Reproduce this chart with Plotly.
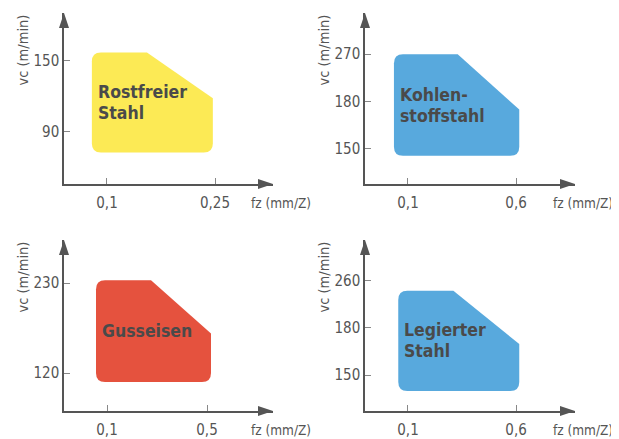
import plotly.graph_objects as go

# ---------------- data ----------------
materials = [["Rostfreier", "Stahl"], ["Kohlen-", "stoffstahl"], ["Gusseisen"], ["Legierter", "Stahl"]]
fz_ticks = [["0,1", "0,25"], ["0,1", "0,6"], ["0,1", "0,5"], ["0,1", "0,6"]]
vc_ticks = [["90", "150"], ["150", "180", "270"], ["120", "230"], ["150", "180", "260"]]
# region outline in tick-position units (1 = first tick, 2 = second tick, ...)
fz_lo = [0.86, 0.87, 0.89, 0.91]
fz_knee = [1.37, 1.46, 1.44, 1.42]
fz_hi = [1.98, 2.03, 2.04, 2.03]
vc_lo = [0.71, 0.85, 0.90, 0.66]
vc_knee = [1.47, 1.83, 1.44, 1.66]
vc_hi = [2.11, 3.00, 2.03, 2.79]
colors = ["#FCEA55", "#58A9DD", "#E5523E", "#58A9DD"]

# ---------------- layout geometry ----------------
PAGE_W, PAGE_H = 619, 439
OFF = 8  # default page body margin
W, H = PAGE_W - OFF, PAGE_H - OFF
# pixel boxes in page coordinates: (x0, x1, ytop, ybottom)
boxes = [(64, 273, 13, 184), (365, 575, 13, 184), (64, 273, 240, 411), (365, 575, 240, 411)]
xranges = [[0.602, 2.537], [0.602, 2.546], [0.57, 2.66], [0.602, 2.546]]
yranges = [[0.268, 2.662], [0.255, 3.872], [0.578, 2.478], [0.234, 3.872]]

AX = "#555555"
TXT = "#4a4a4a"
FONT = "DejaVu Sans Condensed, Liberation Sans Narrow, Arial Narrow, sans-serif"
R_PX = 9

fig = go.Figure()
layout = dict(width=W, height=H, margin=dict(l=0, r=0, t=0, b=0),
              paper_bgcolor="white", plot_bgcolor="white", showlegend=False)
shapes, annotations = [], []

for i in range(4):
    sfx = "" if i == 0 else str(i + 1)
    xa, ya = "x" + sfx, "y" + sfx
    x0, x1, yt, yb = [v - OFF for v in boxes[i]]
    fig.add_trace(go.Scatter(x=[], y=[], xaxis=xa, yaxis=ya, showlegend=False))
    common = dict(showline=True, linecolor=AX, linewidth=1.5, showgrid=False, zeroline=False,
                  ticks="inside", ticklen=6, tickwidth=1, tickcolor="#888888",
                  tickfont=dict(family=FONT, size=15, color=AX), fixedrange=True)
    layout["xaxis" + sfx] = dict(common, domain=[x0 / W, x1 / W], anchor=ya, range=xranges[i],
                                 tickmode="array", tickvals=list(range(1, len(fz_ticks[i]) + 1)),
                                 ticktext=fz_ticks[i], ticklabelstandoff=4)
    layout["yaxis" + sfx] = dict(common, domain=[1 - yb / H, 1 - yt / H], anchor=xa, range=yranges[i],
                                 tickmode="array", tickvals=list(range(1, len(vc_ticks[i]) + 1)),
                                 ticktext=vc_ticks[i])

    # region with rounded corners (data units)
    rx = R_PX * (xranges[i][1] - xranges[i][0]) / (x1 - x0)
    ry = R_PX * (yranges[i][1] - yranges[i][0]) / (yb - yt)
    lo, kx, hi = fz_lo[i], fz_knee[i], fz_hi[i]
    bo, ky, to = vc_lo[i], vc_knee[i], vc_hi[i]
    path = (f"M{lo},{bo + ry} L{lo},{to - ry} Q{lo},{to} {lo + rx},{to} "
            f"L{kx},{to} L{hi},{ky} L{hi},{bo + ry} Q{hi},{bo} {hi - rx},{bo} "
            f"L{lo + rx},{bo} Q{lo},{bo} {lo},{bo + ry} Z")
    shapes.append(dict(type="path", xref=xa, yref=ya, path=path, fillcolor=colors[i],
                       line=dict(width=0), layer="below"))

    # label lines
    n = len(materials[i])
    for k, line in enumerate(materials[i]):
        annotations.append(dict(xref=xa, yref=ya, x=lo, y=(bo + to) / 2, xanchor="left",
                                yanchor="middle", xshift=4, yshift=(n - 1) / 2 * 21 - k * 21,
                                text=line, showarrow=False,
                                font=dict(family=FONT, size=17.5, color=TXT, weight=700)))

    # arrow heads
    shapes.append(dict(type="path", xref=xa + " domain", yref=ya + " domain",
                       xsizemode="pixel", ysizemode="pixel", xanchor=1, yanchor=0,
                       path="M0,0 L-15,5 L-15,-5 Z", fillcolor=AX, line=dict(width=0)))
    shapes.append(dict(type="path", xref=xa + " domain", yref=ya + " domain",
                       xsizemode="pixel", ysizemode="pixel", xanchor=0, yanchor=1,
                       path="M0,0 L5,-15 L-5,-15 Z", fillcolor=AX, line=dict(width=0)))

    # axis titles
    annotations.append(dict(xref=xa + " domain", yref=ya + " domain", x=0, y=1,
                            xanchor="center", yanchor="top", xshift=-42, textangle=-90,
                            text="vc (m/min)", showarrow=False,
                            font=dict(family=FONT, size=14.5, color=AX)))
    annotations.append(dict(xref=xa + " domain", yref=ya + " domain", x=1, y=0,
                            xanchor="left", yanchor="middle", xshift=-24, yshift=-19,
                            text="fz (mm/Z)", showarrow=False,
                            font=dict(family=FONT, size=13.5, color=AX)))

layout["shapes"] = shapes
layout["annotations"] = annotations
fig.update_layout(**layout)
fig.write_html("out.html")
